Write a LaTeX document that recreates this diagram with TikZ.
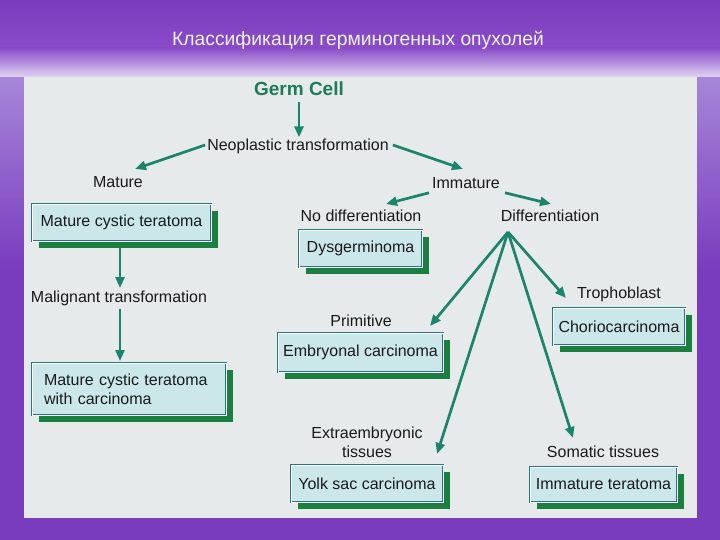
\documentclass[tikz,border=0pt]{standalone}
\usepackage{fontspec}
\setmainfont{Liberation Sans}
\usetikzlibrary{arrows.meta,shadows}
\definecolor{bgpurple}{HTML}{7A3CBE}
\definecolor{toppurple}{HTML}{7B3BBE}
\definecolor{midpurple}{HTML}{8A4CC8}
\definecolor{lightlav}{HTML}{E2D8F3}
\definecolor{sidelight}{HTML}{A586D8}
\definecolor{panel}{HTML}{E6EAEA}
\definecolor{boxfill}{HTML}{CBE7EA}
\definecolor{boxline}{HTML}{2A7680}
\definecolor{shadowgreen}{HTML}{1B7F40}
\definecolor{arrowc}{HTML}{1B846A}
\definecolor{germc}{HTML}{1E7A58}
\definecolor{txt}{HTML}{1A1A1A}
\definecolor{titlec}{HTML}{EAF3FF}
\begin{document}
\begin{tikzpicture}[x=1pt,y=-1pt,
  lbl/.style={inner sep=1pt, font=\fontsize{16}{19}\selectfont, text=txt},
  box/.style={draw=boxline, line width=0.8pt, double=white, double distance=0.8pt,
    fill=boxfill, inner sep=0pt,
    drop shadow={shadow xshift=7pt, shadow yshift=-7pt, fill=shadowgreen, opacity=1},
    font=\fontsize{16}{19}\selectfont, text=txt},
  arr/.style={draw=arrowc, line width=2.7pt, -{Triangle[length=11pt,width=9pt]}}]
\useasboundingbox (0,0) rectangle (720,540);
% background
\fill[bgpurple] (0,0) rectangle (720,540);
\shade[top color=toppurple, bottom color=midpurple] (0,0) rectangle (720,48);
\shade[top color=midpurple, bottom color=lightlav] (0,48) rectangle (720,78);
\shade[top color=sidelight, bottom color=bgpurple] (0,78) rectangle (24,270);
\shade[top color=sidelight, bottom color=bgpurple] (697,78) rectangle (720,270);
\fill[panel] (24,77) rectangle (697,518);
% title
\node[text=titlec, font=\fontsize{19.3}{22}\selectfont] (title) at (358,40) {Классификация герминогенных опухолей};
% labels
\node[inner sep=1pt, font=\fontsize{19}{22}\bfseries, text=germc] (germ) at (299,89) {Germ Cell};
\node[lbl] (neo) at (298,146) {Neoplastic transformation};
\node[lbl] (mature) at (118,182) {Mature};
\node[lbl] (immature) at (466,183) {Immature};
\node[lbl] (malig) at (119,298) {Malignant transformation};
\node[lbl] (nodiff) at (361,216) {No differentiation};
\node[lbl] (diff) at (550,216) {Differentiation};
\node[lbl] (troph) at (619,294) {Trophoblast};
\node[lbl] (prim) at (361,321) {Primitive};
\node[lbl, align=center] (extra) at (367,442) {Extraembryonic\\tissues};
\node[lbl] (somatic) at (603,452) {Somatic tissues};
% boxes
\node[box, minimum width=179pt, minimum height=37pt] (mct) at (121.5,222.5) {Mature cystic teratoma};
\node[box, minimum height=52pt, text width=170pt, inner xsep=12pt, align=left] (mctc) at (129,389) {Mature cystic teratoma\\with carcinoma};
\node[box, minimum width=123pt, minimum height=37pt] (dys) at (360.5,248.5) {Dysgerminoma};
\node[box, minimum width=132pt, minimum height=37pt] (chorio) at (619,326.5) {Choriocarcinoma};
\node[box, minimum width=165pt, minimum height=39pt] (embr) at (360.5,352.5) {Embryonal carcinoma};
\node[box, minimum width=152pt, minimum height=37pt] (yolk) at (367,483.5) {Yolk sac carcinoma};
\node[box, minimum width=147pt, minimum height=35pt] (immt) at (603.5,484.5) {Immature teratoma};
% connector end points
\coordinate (fan) at (508,232);
\coordinate (tmature) at (135,169);
\coordinate (timm) at (463,169);
\coordinate (tnodiff) at (386,204);
\coordinate (tdiff) at (551,204);
\coordinate (tprim) at (430,326);
\coordinate (textra) at (437,454);
\coordinate (tsom) at (573,438);
\coordinate (ttroph) at (566,298);
\coordinate (tmalig) at (120,288);
\coordinate (tmctc) at (120,361);
% connectors
\draw[arr] (germ.south |- 0,102) -- (germ.south |- neo.north);
\draw[arr] ([xshift=-1pt,yshift=1pt]neo.west) -- (tmature);
\draw[arr] ([xshift=3pt,yshift=1pt]neo.east) -- (timm);
\draw[arr] (tmalig |- mct.south) ++(0,7) -- (tmalig);
\draw[arr] (tmctc |- malig.south) ++(0,2) -- (tmctc);
\draw[arr] ([xshift=-2pt,yshift=-3pt]immature.south west) -- (tnodiff);
\draw[arr] ([xshift=4pt,yshift=-3pt]immature.south east) -- (tdiff);
\draw[arr] (fan) -- (tprim);
\draw[arr] (fan) -- (textra);
\draw[arr] (fan) -- (tsom);
\draw[arr] (fan) -- (ttroph);
\end{tikzpicture}
\end{document}
